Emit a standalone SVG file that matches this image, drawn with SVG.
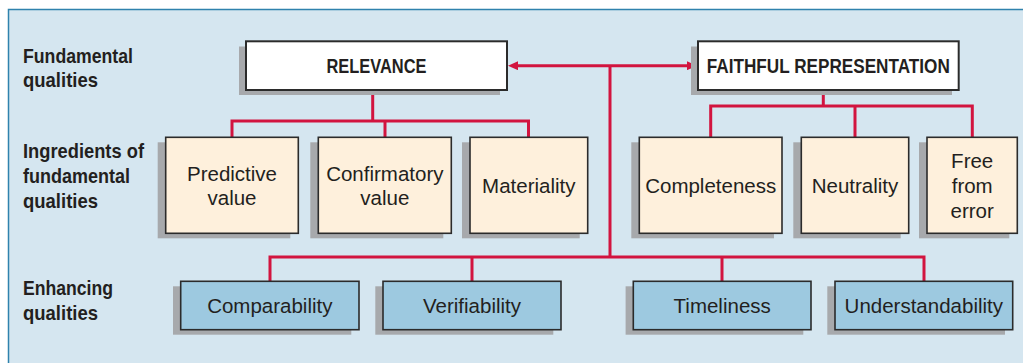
<svg xmlns="http://www.w3.org/2000/svg" width="1023" height="363" viewBox="0 0 1023 363">
  <defs>
    <style>
      .lbl { font-family: "Liberation Sans", Arial, sans-serif; font-weight: bold; font-size: 21px; fill: #231f20; }
      .top { fill: #ffffff; stroke: #2b2b2b; stroke-width: 2; }
      .ing { fill: #fef0dc; stroke: #2b2b2b; stroke-width: 1.6; }
      .enh { fill: #9dc9e0; stroke: #2b2b2b; stroke-width: 1.6; }
      .shd { fill: #a7a9ac; }
      .ttl { font-family: "Liberation Sans", Arial, sans-serif; font-weight: bold; font-size: 20px; fill: #231f20; text-anchor: middle; }
      .txt { font-family: "Liberation Sans", Arial, sans-serif; font-size: 20.5px; fill: #231f20; text-anchor: middle; }
      .con { fill: none; stroke: #d2143f; stroke-width: 3; }
    </style>
    <marker id="arr" viewBox="0 0 10 9" refX="1" refY="4.5" markerWidth="10" markerHeight="9" markerUnits="userSpaceOnUse" orient="auto-start-reverse">
      <path d="M0,0 L10,4.5 L0,9 z" fill="#d2143f"/>
    </marker>
  </defs>

  <!-- background panel -->
  <rect x="0" y="0" width="1023" height="363" fill="#ffffff"/>
  <rect x="8.5" y="9.5" width="1030" height="370" fill="#d5e6f0" stroke="#2f82ad" stroke-width="1.5"/>

  <!-- row labels -->
  <g id="label-fundamental">
    <text class="lbl" x="23" y="63.3" textLength="110" lengthAdjust="spacingAndGlyphs">Fundamental</text>
    <text class="lbl" x="23" y="87.3" textLength="75" lengthAdjust="spacingAndGlyphs">qualities</text>
  </g>
  <g id="label-ingredients">
    <text class="lbl" x="23" y="158.3" textLength="121" lengthAdjust="spacingAndGlyphs">Ingredients of</text>
    <text class="lbl" x="23" y="183" textLength="107" lengthAdjust="spacingAndGlyphs">fundamental</text>
    <text class="lbl" x="23" y="207.5" textLength="75" lengthAdjust="spacingAndGlyphs">qualities</text>
  </g>
  <g id="label-enhancing">
    <text class="lbl" x="23" y="295" textLength="90" lengthAdjust="spacingAndGlyphs">Enhancing</text>
    <text class="lbl" x="23" y="320" textLength="75" lengthAdjust="spacingAndGlyphs">qualities</text>
  </g>

  <!-- connectors -->
  <g id="connectors">
    <path class="con" d="M517,65.7 H688" marker-start="url(#arr)" marker-end="url(#arr)"/>
    <path class="con" d="M610,65.7 V257"/>
    <path class="con" d="M372.7,90 V121"/>
    <path class="con" d="M232,137.3 V121 H528.5 V137.3"/>
    <path class="con" d="M385,121 V137.3"/>
    <path class="con" d="M823.3,90 V106"/>
    <path class="con" d="M710.7,137.3 V106 H972.3 V137.3"/>
    <path class="con" d="M855,106 V137.3"/>
    <path class="con" d="M270,281.3 V257 H924 V281.3"/>
    <path class="con" d="M472,257 V281.3"/>
    <path class="con" d="M722,257 V281.3"/>
  </g>

  <!-- fundamental qualities -->
  <g id="relevance">
    <rect class="shd" x="239" y="46.5" width="261" height="48.5"/>
    <rect class="top" x="246" y="41.3" width="261" height="48.7"/>
    <text class="ttl" x="376.5" y="73.3" textLength="100" lengthAdjust="spacingAndGlyphs">RELEVANCE</text>
  </g>
  <g id="faithful-representation">
    <rect class="shd" x="691" y="46.5" width="261" height="48.5"/>
    <rect class="top" x="698" y="41.3" width="260.7" height="48.7"/>
    <text class="ttl" x="828.3" y="73.3" textLength="243" lengthAdjust="spacingAndGlyphs">FAITHFUL REPRESENTATION</text>
  </g>

  <!-- ingredients -->
  <g id="predictive-value">
    <rect class="shd" x="157.7" y="142.3" width="132.6" height="96"/>
    <rect class="ing" x="165.7" y="137.3" width="132.6" height="96"/>
    <text class="txt" x="232" y="181">Predictive</text>
    <text class="txt" x="232" y="205">value</text>
  </g>
  <g id="confirmatory-value">
    <rect class="shd" x="310.3" y="142.3" width="133" height="96"/>
    <rect class="ing" x="318.3" y="137.3" width="133" height="96"/>
    <text class="txt" x="384.8" y="181">Confirmatory</text>
    <text class="txt" x="384.8" y="205">value</text>
  </g>
  <g id="materiality">
    <rect class="shd" x="462" y="142.3" width="117.7" height="96"/>
    <rect class="ing" x="470" y="137.3" width="117.7" height="96"/>
    <text class="txt" x="528.8" y="193">Materiality</text>
  </g>
  <g id="completeness">
    <rect class="shd" x="631.3" y="142.3" width="142.7" height="96"/>
    <rect class="ing" x="639.3" y="137.3" width="142.7" height="96"/>
    <text class="txt" x="710.7" y="193">Completeness</text>
  </g>
  <g id="neutrality">
    <rect class="shd" x="793.3" y="142.3" width="107.4" height="96"/>
    <rect class="ing" x="801.3" y="137.3" width="107.4" height="96"/>
    <text class="txt" x="855" y="193">Neutrality</text>
  </g>
  <g id="free-from-error">
    <rect class="shd" x="919" y="142.3" width="90.3" height="96"/>
    <rect class="ing" x="927" y="137.3" width="90.3" height="96"/>
    <text class="txt" x="972.2" y="168">Free</text>
    <text class="txt" x="972.2" y="193">from</text>
    <text class="txt" x="972.2" y="218">error</text>
  </g>

  <!-- enhancing qualities -->
  <g id="comparability">
    <rect class="shd" x="173" y="286.3" width="178.3" height="48.4"/>
    <rect class="enh" x="180.7" y="281.3" width="178.3" height="48.4"/>
    <text class="txt" x="269.8" y="313.3">Comparability</text>
  </g>
  <g id="verifiability">
    <rect class="shd" x="375.3" y="286.3" width="178" height="48.4"/>
    <rect class="enh" x="383" y="281.3" width="178" height="48.4"/>
    <text class="txt" x="472" y="313.3">Verifiability</text>
  </g>
  <g id="timeliness">
    <rect class="shd" x="625.6" y="286.3" width="177.7" height="48.4"/>
    <rect class="enh" x="633.3" y="281.3" width="177.7" height="48.4"/>
    <text class="txt" x="722.2" y="313.3">Timeliness</text>
  </g>
  <g id="understandability">
    <rect class="shd" x="827.3" y="286.3" width="177.7" height="48.4"/>
    <rect class="enh" x="835" y="281.3" width="177.7" height="48.4"/>
    <text class="txt" x="923.8" y="313.3">Understandability</text>
  </g>
</svg>
